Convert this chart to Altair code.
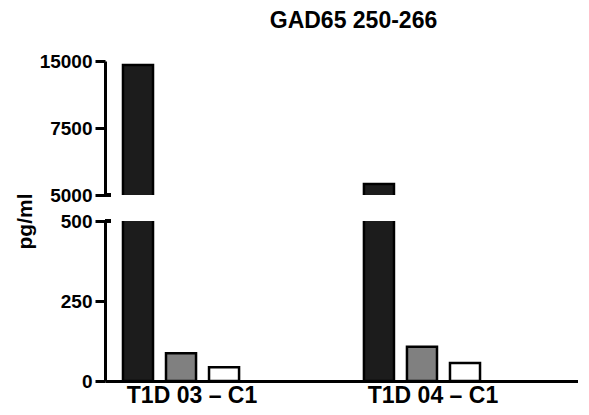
import altair as alt
import pandas as pd

groups = ["T1D 03 – C1", "T1D 04 – C1"]
series = ["Series A", "Series B", "Series C"]
values_03 = [14550, 87, 43]
values_04 = [5410, 107, 56]
series_fill = ["#1c1c1c", "#808080", "#ffffff"]

upper_ticks = [5000, 7500, 15000]
lower_ticks = [0, 250, 500]

rows = []
for g, vals in zip(groups, [values_03, values_04]):
    for s, v in zip(series, vals):
        rows.append({"group": g, "series": s, "value": v})
df = pd.DataFrame(rows)

FONT = "Liberation Sans"
W = 473
H_UP = 134
H_LO = 160

x_scale = alt.Scale(paddingInner=0.369, paddingOuter=0.166, align=0)
xo_scale = alt.Scale(paddingInner=0.302, paddingOuter=0.418)
color_enc = alt.Color("series:N", sort=series,
                      scale=alt.Scale(domain=series, range=series_fill), legend=None)

axis_common = dict(domainColor="black", domainWidth=3, tickColor="black", tickWidth=3,
                   tickSize=10, labelFont=FONT, labelFontWeight="bold", labelFontSize=19,
                   labelColor="black", labelPadding=3, grid=False, format="d")

bars = alt.Chart(df).mark_bar(clip=True, stroke="black", strokeWidth=2.5)

upper = alt.layer(
    bars.encode(
        x=alt.X("group:N", sort=groups, scale=x_scale, axis=None),
        xOffset=alt.XOffset("series:N", sort=series, scale=xo_scale),
        y=alt.Y("value:Q", scale=alt.Scale(domain=upper_ticks, range=[H_UP, H_UP / 2, 0],
                                           nice=False, zero=False),
                axis=alt.Axis(values=upper_ticks, title=None, **axis_common)),
        color=color_enc,
    ),
    alt.Chart(df).mark_rule(color="black", strokeWidth=3).encode(
        y=alt.datum(upper_ticks[0]), x=alt.value(0), x2=alt.value(6)
    ),
).properties(width=W, height=H_UP)

lower = alt.layer(
    bars.encode(
        x=alt.X("group:N", sort=groups, scale=x_scale,
                axis=alt.Axis(title=None, labelAngle=0, ticks=False, domainColor="black",
                              domainWidth=3, labelFont=FONT, labelFontWeight="bold",
                              labelFontSize=23, labelColor="black", labelPadding=3,
                              labelOffset=11)),
        xOffset=alt.XOffset("series:N", sort=series, scale=xo_scale),
        y=alt.Y("value:Q", scale=alt.Scale(domain=[0, 500], nice=False),
                axis=alt.Axis(values=lower_ticks, title="pg/ml", titleFont=FONT,
                              titleFontSize=21, titleFontWeight="bold", titleColor="black",
                              titleX=-70, titleY=0, **axis_common)),
        color=color_enc,
    ),
    alt.Chart(df).mark_rule(color="black", strokeWidth=3).encode(
        y=alt.datum(lower_ticks[-1]), x=alt.value(0), x2=alt.value(6)
    ),
).properties(width=W, height=H_LO)

chart = alt.vconcat(upper, lower, spacing=26, bounds="flush").properties(
    title=alt.TitleParams("GAD65 250-266", font=FONT, fontSize=23, fontWeight="bold",
                          color="black", anchor="middle", frame="group", offset=19, dx=12),
    padding={"left": 6, "top": 2, "right": 0, "bottom": 0},
).configure_view(stroke=None)

chart.save("out.html", embed_options={"renderer": "svg", "actions": False})
